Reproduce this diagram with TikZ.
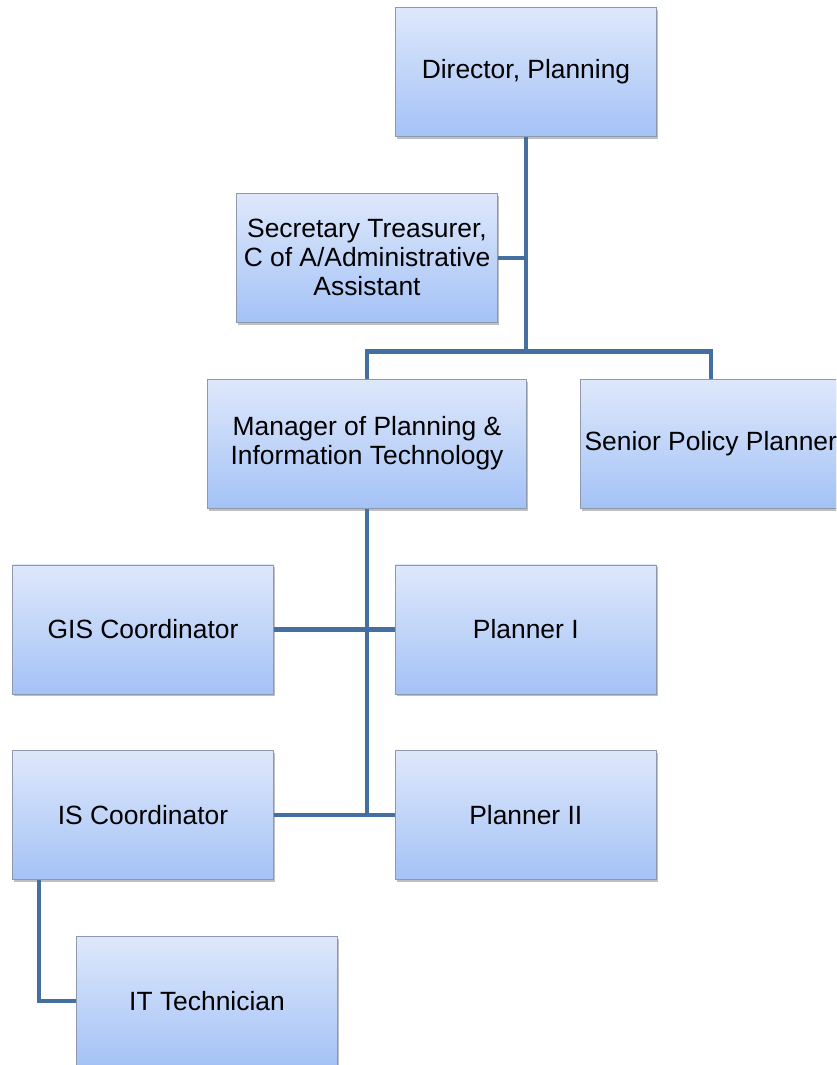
\documentclass[tikz,border=0pt]{standalone}
\usepackage{fontspec}
\setmainfont{Liberation Sans}
\usepackage{tikz}
\usetikzlibrary{positioning, shadows}

\definecolor{boxtop}{HTML}{DEE8FB}
\definecolor{boxbottom}{HTML}{A4C2F6}
\definecolor{boxborder}{HTML}{8E9AAC}
\definecolor{linkblue}{HTML}{44709F}

\begin{document}
\begin{tikzpicture}[x=1pt, y=1pt, node distance=56pt and 121pt]

        % Define styles
        \tikzstyle{block} = [rectangle, draw=boxborder, line width=0.8pt, top color=boxtop, bottom color=boxbottom, minimum width=261pt, minimum height=129pt, align=center, font=\fontsize{26.4}{29}\selectfont, drop shadow={shadow xshift=1.5pt, shadow yshift=-2.5pt, opacity=0.25, fill=black}]
        \tikzstyle{wide} = [minimum width=319pt]
        \tikzstyle{line} = [draw=linkblue, line width=4.5pt]

        \clip (0,0) rectangle (836,-1065);

        % Place nodes
        \node [block] (director) at (526,-72) {Director, Planning};
        \node [block, below=of director, xshift=-159pt] (secretary) {Secretary Treasurer,\\C of A/Administrative\\Assistant};
        \node [block, wide, below=of secretary] (manager) {Manager of Planning \&\\Information Technology};
        \node [block, right=53pt of manager] (senior) {Senior Policy Planner};
        \node [block, below=of manager, xshift=-224pt] (gis) {GIS Coordinator};
        \node [block, right=of gis] (planner1) {Planner I};
        \node [block, below=of gis] (iscoord) {IS Coordinator};
        \node [block, right=of iscoord] (planner2) {Planner II};
        \node [block, below=of iscoord, xshift=64pt] (ittech) {IT Technician};

        % Draw edges
        \coordinate (bus) at ([yshift=27pt]manager.north);
        \path [line] (director.south) |- (secretary.east);
        \path [line] (director.south) -- (director.south |- bus);
        \path [line] (manager.north) -- (bus) -| (senior.north);
        \path [line] (manager.south) -- (manager.south |- iscoord.east);

        % Staff under the manager
        \path [line] (gis.east) -- (planner1.west);
        \path [line] (iscoord.east) -- (planner2.west);
        \path [line] ([xshift=27pt]iscoord.south west) |- (ittech.west);

    \end{tikzpicture}
\end{document}
